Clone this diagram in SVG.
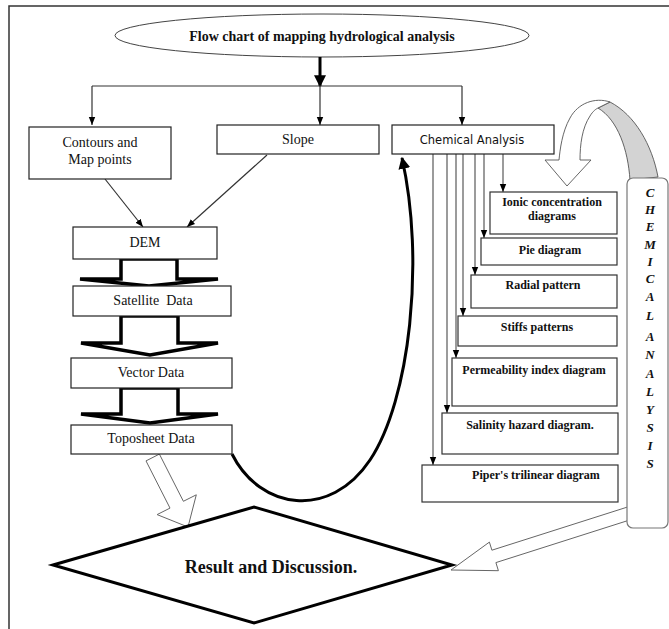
<svg xmlns="http://www.w3.org/2000/svg" width="669" height="629" viewBox="0 0 669 629">
<style>
.bx{fill:#fff;stroke:#222;stroke-width:1.2}
.bx2{fill:#fff;stroke:#333;stroke-width:1.2}
.t{font-family:"Liberation Serif","Times New Roman",serif;font-size:14px;fill:#111;text-anchor:middle}
.tb{font-family:"Liberation Serif","Times New Roman",serif;font-size:12px;font-weight:bold;fill:#111;text-anchor:middle}
.ts{font-family:"DejaVu Sans",Verdana,sans-serif;font-size:11.5px;fill:#111;text-anchor:middle}
.lt{font-family:"Liberation Serif","Times New Roman",serif;font-size:13px;font-weight:bold;font-style:italic;fill:#111;text-anchor:middle}
.ln{fill:none;stroke:#333;stroke-width:1.2}
.gl{fill:none;stroke:#7a7a7a;stroke-width:1.5}
.blk{fill:#fff;stroke:#000;stroke-width:3.5;stroke-linejoin:miter}
.hol{fill:#fff;stroke:#666;stroke-width:1}
</style>
<defs>
<marker id="ah" viewBox="0 0 10 10" refX="10" refY="5" markerWidth="8" markerHeight="8" orient="auto" markerUnits="userSpaceOnUse"><path d="M0,1 L10,5 L0,9 Z" fill="#000"/></marker>
<marker id="ahb" viewBox="0 0 10 10" refX="9" refY="5" markerWidth="12" markerHeight="12" orient="auto" markerUnits="userSpaceOnUse"><path d="M0,0 L10,5 L0,10 Z" fill="#000"/></marker>
</defs>
<rect width="669" height="629" fill="#fff"/>
<path d="M9,629 L9,6 L669,6" fill="none" stroke="#333" stroke-width="1.5"/>

<g id="title">
<ellipse cx="322" cy="35.5" rx="207" ry="21.5" fill="#fff" stroke="#444" stroke-width="1"/>
<text class="t" x="322" y="41" style="font-weight:bold;font-size:14px">Flow chart of mapping hydrological analysis</text>
</g>

<g id="connectors">
<line x1="320" y1="57" x2="320" y2="86" stroke="#000" stroke-width="3" marker-end="url(#ahb)"/>
<path class="ln" d="M92,86 L462,86"/>
<path class="ln" d="M92,86 L92,125" marker-end="url(#ah)"/>
<path class="ln" d="M320,86 L320,125" marker-end="url(#ah)"/>
<path class="ln" d="M462,86 L462,125" marker-end="url(#ah)"/>
<path class="ln" d="M105,179 L143,227" marker-end="url(#ah)"/>
<path class="ln" d="M267,155 L187,227" marker-end="url(#ah)"/>
<polygon class="blk" points="121,259 177,259 177,279 218,279 149,286 80,279 121,279"/>
<polygon class="blk" points="121,316 178,316 178,343 218,343 150,355 81,343 121,343"/>
<polygon class="blk" points="121,388 178,388 178,414 218,414 150,423 81,414 121,414"/>
<path d="M232,454 C260,510 330,520 370,460 C410,400 425,260 402,158" fill="none" stroke="#000" stroke-width="3" marker-end="url(#ahb)"/>
<path class="gl" d="M503,154 L503,192" marker-end="url(#ah)"/>
<path class="gl" d="M484,154 L484,238" marker-end="url(#ah)"/>
<path class="gl" d="M475,154 L475,275" marker-end="url(#ah)"/>
<path class="gl" d="M463,154 L463,316" marker-end="url(#ah)"/>
<path class="gl" d="M456,154 L456,358" marker-end="url(#ah)"/>
<path class="gl" d="M447,154 L447,413" marker-end="url(#ah)"/>
<path class="gl" d="M433,154 L433,465" marker-end="url(#ah)"/>
<polygon class="hol" points="146,460.9 159.4,454.1 183.4,501.3 196.3,494.8 188,527 157.1,514.6 170,508.1"/>
<polygon class="hol" points="630.1,506.2 634.1,518.6 495.9,562.6 498.4,570.7 451,570 489.4,542.1 491.9,550.2"/>
<path d="M630,180 C628,150 618,120 598,108 L610,102 C635,115 652,145 658,177 Z" fill="#d3d3d3" stroke="#555" stroke-width="0.9"/>
<path d="M610,102 C595,97 578,103 570,118 C562,132 560,150 559,160 L545,160 L567,186 L591,160 L580,160 C580,145 582,128 590,116 C593,111 596,109 598,108 Z" fill="#fff" stroke="#555" stroke-width="0.9"/>
</g>

<g id="contours"><rect class="bx" x="29" y="127" width="142" height="52"/><text class="t" x="100" y="147">Contours and</text><text class="t" x="100" y="164">Map points</text></g>
<g id="slope"><rect class="bx" x="217" y="125" width="162" height="29"/><text class="t" x="298" y="144">Slope</text></g>
<g id="chem"><rect class="bx" x="392" y="125" width="162" height="29"/><text class="ts" x="472" y="144">Chemical Analysis</text></g>
<g id="dem"><rect class="bx" x="73" y="227" width="144" height="32"/><text class="t" x="145" y="247">DEM</text></g>
<g id="satellite"><rect class="bx" x="73" y="286" width="158" height="30"/><text class="t" x="153" y="305" xml:space="preserve">Satellite  Data</text></g>
<g id="vector"><rect class="bx" x="71" y="358" width="161" height="30"/><text class="t" x="151" y="377">Vector Data</text></g>
<g id="toposheet"><rect class="bx" x="71" y="425" width="161" height="29"/><text class="t" x="151" y="443">Toposheet Data</text></g>

<g id="ionic"><rect class="bx2" x="490" y="192" width="127" height="42"/><text class="tb" x="552" y="206">Ionic concentration</text><text class="tb" x="552" y="220">diagrams</text></g>
<g id="pie"><rect class="bx2" x="481" y="238" width="136" height="27"/><text class="tb" x="550" y="254">Pie diagram</text></g>
<g id="radial"><rect class="bx2" x="471" y="275" width="146" height="33"/><text class="tb" x="543" y="289">Radial pattern</text></g>
<g id="stiffs"><rect class="bx2" x="458" y="316" width="159" height="30"/><text class="tb" x="537" y="331">Stiffs patterns</text></g>
<g id="permeability"><rect class="bx2" x="452" y="358" width="165" height="48"/><text class="tb" x="534" y="374">Permeability index diagram</text></g>
<g id="salinity"><rect class="bx2" x="442" y="413" width="176" height="41"/><text class="tb" x="530" y="429">Salinity hazard diagram.</text></g>
<g id="piper"><rect class="bx2" x="422" y="465" width="196" height="37"/><text class="tb" x="536" y="479">Piper's trilinear diagram</text></g>

<g id="chem-panel">
<rect x="627" y="178" width="41" height="350" rx="6" fill="#fff" stroke="#777" stroke-width="1.2"/>
<text class="lt" x="650" y="197">C</text>
<text class="lt" x="650" y="214">H</text>
<text class="lt" x="650" y="231">E</text>
<text class="lt" x="650" y="249">M</text>
<text class="lt" x="650" y="266">I</text>
<text class="lt" x="650" y="283">C</text>
<text class="lt" x="650" y="301">A</text>
<text class="lt" x="650" y="320">L</text>
<text class="lt" x="650" y="341">A</text>
<text class="lt" x="650" y="359">N</text>
<text class="lt" x="650" y="378">A</text>
<text class="lt" x="650" y="396">L</text>
<text class="lt" x="650" y="414">Y</text>
<text class="lt" x="650" y="432">S</text>
<text class="lt" x="650" y="450">I</text>
<text class="lt" x="650" y="468">S</text>
</g>

<g id="result">
<polygon points="53,565 254,507 452,565 254,623" fill="#fff" stroke="#000" stroke-width="3"/>
<text class="t" x="271" y="573" style="font-weight:bold;font-size:18px">Result and Discussion.</text>
</g>
</svg>
